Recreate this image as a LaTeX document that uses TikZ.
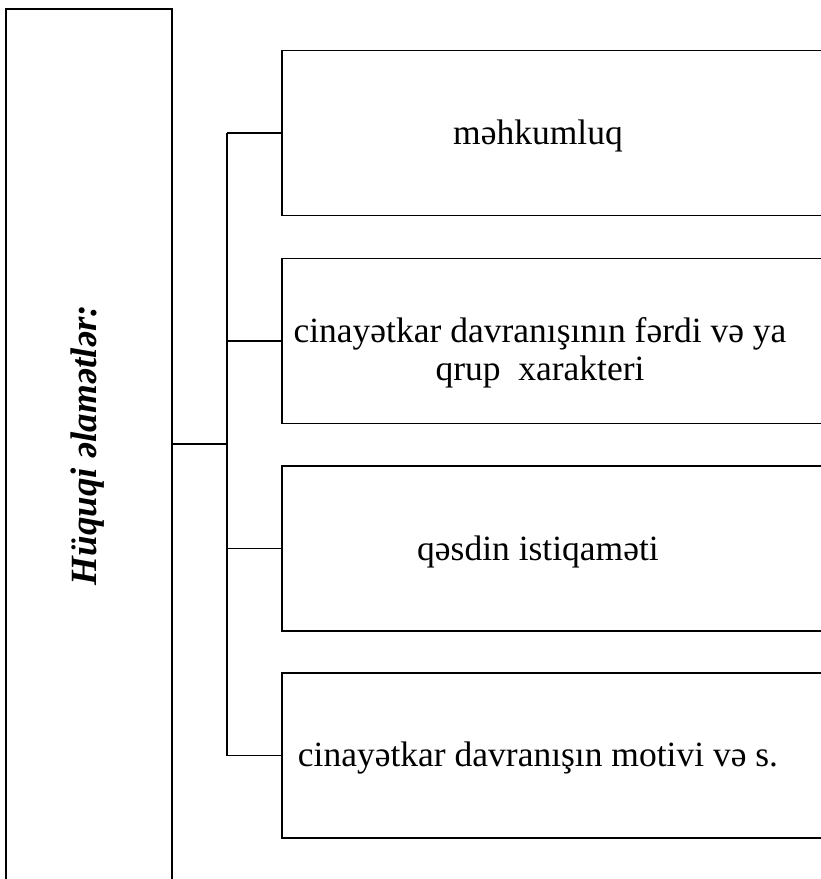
\documentclass[tikz,border=0pt]{standalone}
\usepackage{fontspec}
\setmainfont{Liberation Serif}
\tikzset{
  signbox/.style={draw, line width=1.6pt, inner sep=0pt, minimum width=166pt, minimum height=900pt},
  itembox/.style={draw, line width=1.6pt, inner sep=0pt, anchor=west, minimum width=580pt, minimum height=165pt},
  itemtext/.style={font=\fontsize{35.5}{38}\selectfont, align=center},
  signtext/.style={font=\fontsize{37}{40}\selectfont\bfseries\itshape, rotate=90},
  link/.style={line width=1.5pt}
}

\begin{document}
\begin{tikzpicture}[x=1pt, y=-1pt]
	%%%%% START %%%%%
	\clip (0, 0) rectangle (821, 879);
	
	\node[signbox] (signs) at (89, 459) {};
	\node[signtext] (title) at (88, 445) {Hüquqi əlamətlər:};
	
	\node[itembox] (b1) at (281, 133) {};
	\node[itembox] (b2) at (281, 341) {};
	\node[itembox] (b3) at (281, 548.5) {};
	\node[itembox] (b4) at (281, 755.5) {};
	
	\node[itemtext] (t1) at ([xshift=257pt, yshift=-3pt]b1.west) {məhkumluq};
	\node[itemtext] (t2) at ([xshift=259pt, yshift=-12pt]b2.west) {cinayətkar davranışının fərdi və ya\\qrup\ \ xarakteri};
	\node[itemtext] (t3) at ([xshift=257pt, yshift=-3pt]b3.west) {qəsdin istiqaməti};
	\node[itemtext] (t4) at ([xshift=257pt, yshift=-3pt]b4.west) {cinayətkar davranışın motivi və s.};
	
	\coordinate (trunk) at (227, 444);
	\draw[link] (trunk -| signs.east) -- (trunk);
	\draw[link] (b1.west -| trunk) -- (b4.west -| trunk);
	\draw[link] (b1.west -| trunk) -- (b1.west);
	\draw[link] (b2.west -| trunk) -- (b2.west);
	\draw[link] (b3.west -| trunk) -- (b3.west);
	\draw[link] (b4.west -| trunk) -- (b4.west);
	
	%%%%% END %%%%%
\end{tikzpicture}
\end{document}
